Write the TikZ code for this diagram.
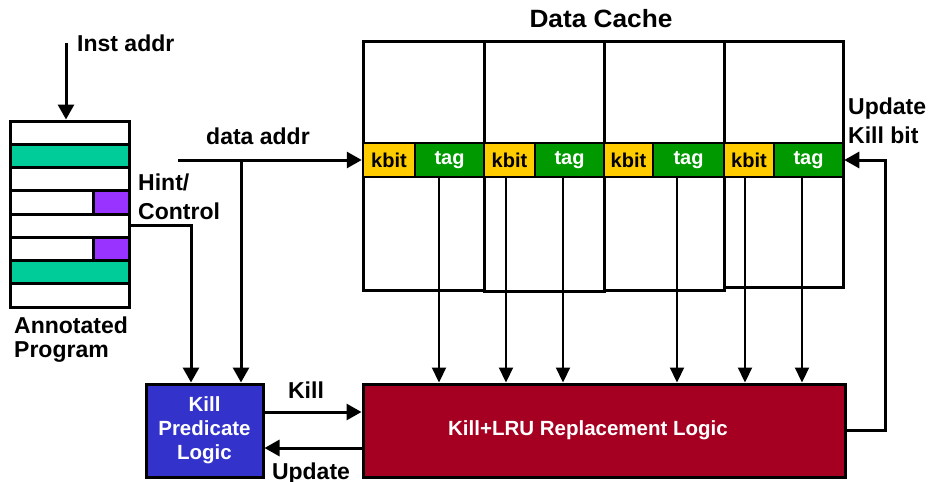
\documentclass[tikz,border=0pt]{standalone}
\usepackage{fontspec}
\usepackage{graphicx}
\setmainfont{Liberation Sans}
\usetikzlibrary{arrows.meta,calc}
\definecolor{progteal}{RGB}{0,204,153}
\definecolor{progpurple}{RGB}{153,51,255}
\definecolor{kbityellow}{RGB}{255,204,0}
\definecolor{taggreen}{RGB}{0,153,0}
\definecolor{kpblue}{RGB}{51,51,204}
\definecolor{lrured}{RGB}{165,0,33}
\begin{document}
\begin{tikzpicture}[x=1pt,y=-1pt,line join=miter,
  lbl/.style={font=\fontsize{23}{27}\selectfont\bfseries,inner sep=0pt,anchor=base west},
  arr/.style={line width=3pt,-{Triangle[length=15pt,width=16pt]}},
  tarr/.style={line width=2.2pt,-{Triangle[length=15pt,width=14pt]}},
  progrow/.style={draw,line width=3pt,fill=white,minimum width=119pt,minimum height=23.25pt,inner sep=0pt},
  purplecell/.style={draw,line width=3pt,fill=progpurple,minimum width=36pt,minimum height=23.25pt,inner sep=0pt},
  cachecol/.style={draw,line width=3pt,fill=white,inner sep=0pt},
  kbitcell/.style={draw,line width=2.5pt,fill=kbityellow,minimum height=34pt,inner sep=0pt,
     font=\fontsize{20}{24}\selectfont\bfseries,text=black},
  tagcell/.style={draw,line width=2.5pt,fill=taggreen,minimum height=34pt,inner sep=0pt,
     font=\fontsize{20}{24}\selectfont\bfseries,text=white},
  logicbox/.style={draw,line width=3pt,inner sep=0pt,text=white,
     font=\fontsize{20.5}{24}\selectfont\bfseries,align=center}
]
\useasboundingbox (0,0) rectangle (930,482);

% ---------- Annotated program ----------
\node[progrow] (r1) at (69.5,132.625) {};
\node[progrow,fill=progteal] (r2) at (69.5,155.875) {};
\node[progrow] (r3) at (69.5,179.125) {};
\node[progrow] (r4) at (69.5,202.375) {};
\node[progrow] (r5) at (69.5,225.625) {};
\node[progrow] (r6) at (69.5,248.875) {};
\node[progrow,fill=progteal] (r7) at (69.5,272.125) {};
\node[progrow] (r8) at (69.5,295.375) {};
\node[purplecell] (p4) at (111,202.375) {};
\node[purplecell] (p6) at (111,248.875) {};

\node[lbl] (instlbl) at (77,51) {Inst addr};
\node[lbl] (hintlbl) at (138,190) {Hint/};
\node[lbl] (ctrllbl) at (138,219) {Control};
\node[lbl] (annlbl) at (14,333) {Annotated};
\node[lbl] (proglbl) at (14,357) {Program};

% ---------- Data cache ----------
\node[font=\fontsize{25}{29}\selectfont\bfseries,inner sep=0pt,anchor=base] (title) at (601,27) {\scalebox{1.05}[1]{Data Cache}};

\node[cachecol,minimum width=121pt,minimum height=249pt] (col1) at (423.5,165.5) {};
\node[cachecol,minimum width=120pt,minimum height=250pt] (col2) at (544,166) {};
\node[cachecol,minimum width=120pt,minimum height=249pt] (col3) at (664,165.5) {};
\node[cachecol,minimum width=119pt,minimum height=246pt] (col4) at (783.5,164) {};

\node[kbitcell,minimum width=52pt] (kbit1) at (389,160) {kbit};
\node[tagcell,minimum width=69pt] (tag1) at (449.5,160) {tag};
\node[kbitcell,minimum width=51pt] (kbit2) at (509.5,160) {kbit};
\node[tagcell,minimum width=69pt] (tag2) at (569.5,160) {tag};
\node[kbitcell,minimum width=49pt] (kbit3) at (628.5,160) {kbit};
\node[tagcell,minimum width=71pt] (tag3) at (688.5,160) {tag};
\node[kbitcell,minimum width=50pt] (kbit4) at (749,160) {kbit};
\node[tagcell,minimum width=69pt] (tag4) at (808.5,160) {tag};

\node[lbl] (updlbl) at (848,114) {Update};
\node[lbl] (killbitlbl) at (848,143) {Kill bit};

% ---------- Logic blocks ----------
\node[logicbox,fill=kpblue,minimum width=117pt,minimum height=93pt] (blue) at (204.5,430.5)
  {Kill\\Predicate\\Logic};
\node[logicbox,fill=lrured,minimum width=482pt,minimum height=93pt] (red) at (604,430.5) {};
\node[font=\fontsize{20.5}{24}\selectfont\bfseries,text=white,inner sep=0pt,anchor=base] (redlbl) at (588,435)
  {Kill+LRU Replacement Logic};

\node[lbl,anchor=base] (killlbl) at (306,398) {Kill};
\node[lbl,anchor=base] (updatelbl) at (311,479) {Update};
\node[lbl,anchor=base] (dalbl) at (258,144) {data addr};

% ---------- Connectors ----------
\coordinate (ia) at (66,43);
\draw[arr] (ia) -- (ia |- r1.north);

\draw[arr] (r5.east) -| ([xshift=-13.5pt]blue.north);

\coordinate (da) at (178,160);
\coordinate (br) at (241,160);
\draw[arr] (da) -- (kbit1.west);
\draw[arr] (br) -- (br |- blue.north);

\draw[tarr] ([xshift=-10.5pt]tag1.south) -- ([xshift=-10.5pt]tag1.south |- red.north);
\draw[tarr] ([xshift=-3.5pt]kbit2.south) -- ([xshift=-3.5pt]kbit2.south |- red.north);
\draw[tarr] ([xshift=-6.5pt]tag2.south) -- ([xshift=-6.5pt]tag2.south |- red.north);
\draw[tarr] ([xshift=-11.5pt]tag3.south) -- ([xshift=-11.5pt]tag3.south |- red.north);
\draw[tarr] ([xshift=-4pt]kbit4.south) -- ([xshift=-4pt]kbit4.south |- red.north);
\draw[tarr] ([xshift=-6.5pt]tag4.south) -- ([xshift=-6.5pt]tag4.south |- red.north);

\draw[arr] ([yshift=18.5pt]blue.east) -- ([yshift=18.5pt]blue.east -| red.west);
\draw[arr] ([yshift=-17.5pt]blue.east -| red.west) -- ([yshift=-17.5pt]blue.east);

\draw[arr] (red.east) -- ++(39,0) |- (tag4.east);
\end{tikzpicture}
\end{document}
